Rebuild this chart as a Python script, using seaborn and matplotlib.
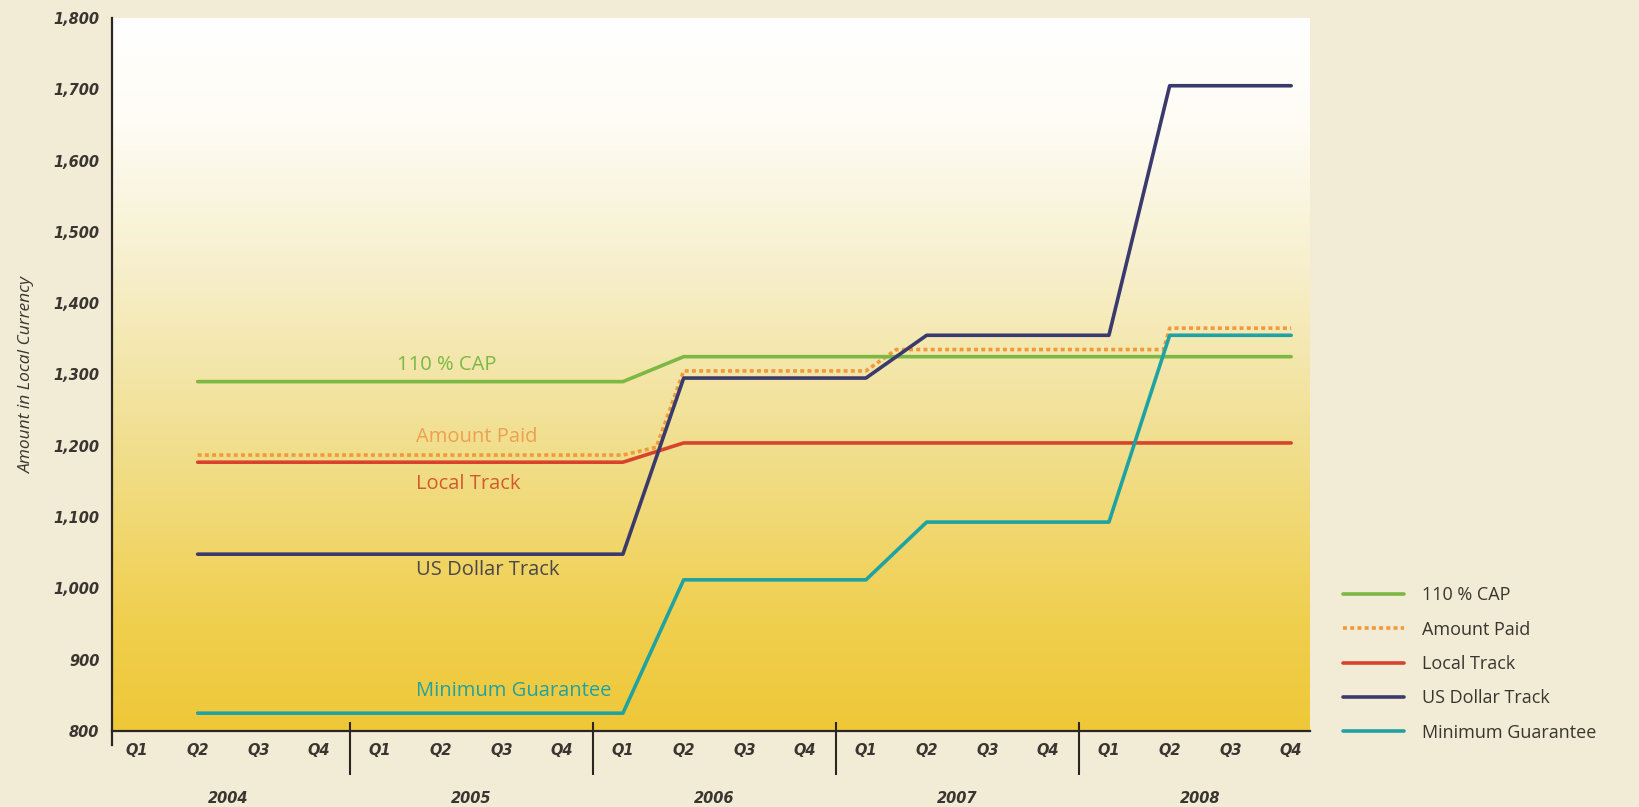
import numpy as np
import pandas as pd
import matplotlib
matplotlib.use("Agg")
import matplotlib.pyplot as plt
import matplotlib.transforms as mtransforms
from matplotlib.colors import LinearSegmentedColormap
import seaborn as sns

# data (x = quarter index, 0 = Q1 2004)
quarters = ["Q1", "Q2", "Q3", "Q4"] * 5
years = ["2004", "2005", "2006", "2007", "2008"]

q_x = list(range(1, 20))
cap = [1290] * 8 + [1325] * 11
local_track = [1177] * 8 + [1204] * 11
usd_track = [1048] * 8 + [1295] * 4 + [1355] * 4 + [1705] * 3
min_guarantee = [825] * 8 + [1012] * 4 + [1093] * 4 + [1355] * 3

# amount paid follows the highest track, kinks where the lines cross
paid_x = [1, 2, 3, 4, 5, 6, 7, 8, 8.55, 9, 10, 11, 12, 12.5, 13, 14, 15, 16, 16.9, 17, 18, 19]
paid = [1187] * 8 + [1198] + [1305] * 4 + [1335] * 6 + [1365] * 3

yticks = list(range(800, 1900, 100))

colors = {
    "110 % CAP": "#7cb844",
    "Amount Paid": "#f09a3c",
    "Local Track": "#d8432b",
    "US Dollar Track": "#3b3a6c",
    "Minimum Guarantee": "#1fa3a2",
}
label_colors = {
    "110 % CAP": "#7cb844",
    "Amount Paid": "#eea050",
    "Local Track": "#d35a30",
    "US Dollar Track": "#4a4848",
    "Minimum Guarantee": "#1fa3a2",
}

sns.set_style("white")
plt.rcParams["font.family"] = ["Open Sans", "DejaVu Sans"]

W, H = 1639, 807
fig = plt.figure(figsize=(W / 100, H / 100), dpi=100)
fig.patch.set_facecolor("#f2ebd5")

ax = fig.add_axes([112 / W, 1 - 731 / H, (1310 - 112) / W, (731 - 18) / H])
ax.set_facecolor("none")

# white -> yellow backdrop of the plot panel
grad = LinearSegmentedColormap.from_list(
    "panel", [(0, "#efc838"), (0.15, "#f0cf4e"), (0.4, "#f1df8e"),
              (0.65, "#f7efcc"), (0.85, "#fefcf4"), (1, "#ffffff")])
ax.imshow(np.linspace(0, 1, 256).reshape(-1, 1), cmap=grad, origin="lower",
          aspect="auto", extent=[0, 1, 0, 1], transform=ax.transAxes, zorder=0)

lw = 2.6
sns.lineplot(x=paid_x, y=paid, ax=ax, color=colors["Amount Paid"], lw=lw,
             dashes=False, linestyle=(0, (1.1, 0.9)), label="Amount Paid", zorder=2)
sns.lineplot(x=q_x, y=cap, ax=ax, color=colors["110 % CAP"], lw=lw, label="110 % CAP", zorder=3)
sns.lineplot(x=q_x, y=local_track, ax=ax, color=colors["Local Track"], lw=lw, label="Local Track", zorder=3)
sns.lineplot(x=q_x, y=usd_track, ax=ax, color=colors["US Dollar Track"], lw=lw, label="US Dollar Track", zorder=3)
sns.lineplot(x=q_x, y=min_guarantee, ax=ax, color=colors["Minimum Guarantee"], lw=lw,
             label="Minimum Guarantee", zorder=3)

ax.set_xlim(-0.41, 19.31)
ax.set_ylim(800, 1800)

# in-plot series labels
inline = [("110 % CAP", 4.28, 1313), ("Amount Paid", 4.6, 1212), ("Local Track", 4.6, 1146),
          ("US Dollar Track", 4.6, 1026), ("Minimum Guarantee", 4.6, 856)]
for name, tx, ty in inline:
    ax.text(tx, ty, name, color=label_colors[name], fontsize=14.5, va="center", ha="left", zorder=4)

# axes styling
for s in ["top", "right"]:
    ax.spines[s].set_visible(False)
ax.spines["left"].set_color("#2b2622")
ax.spines["bottom"].set_color("#2b2622")
ax.spines["left"].set_linewidth(1.6)
ax.spines["bottom"].set_linewidth(1.6)
ax.spines["left"].set_bounds(780, 1800)

ax.set_yticks(yticks)
ax.set_yticklabels([f"{v:,}" for v in yticks])
ax.set_xticks(range(len(quarters)))
ax.set_xticklabels(quarters)
ax.tick_params(axis="y", direction="out", length=5, width=1.5, color="#2b2622", pad=4)
ax.tick_params(axis="x", direction="inout", length=11, width=1.5, color="#2b2622", pad=3)
for lab in ax.get_xticklabels() + ax.get_yticklabels():
    lab.set_family("DejaVu Sans")
    lab.set_fontstyle("italic")
    lab.set_fontweight("bold")
    lab.set_fontsize(10.5)
    lab.set_color("#3a3530")

ax.set_ylabel("Amount in Local Currency", fontsize=12.5, fontstyle="italic",
              color="#3a3530", labelpad=13)
ax.set_xlabel("")

# year separators and year names
trans = mtransforms.blended_transform_factory(ax.transData, ax.transAxes)
seps = [4 * i - 0.5 for i in range(1, len(years))]
ax.vlines(seps, -0.062, 0.013, transform=trans, color="#2b2622", lw=1.5, clip_on=False)
for i, yr in enumerate(years):
    ax.text(4 * i + 1.5, -0.095, yr, transform=trans, ha="center", va="center",
            family="DejaVu Sans", fontsize=10.5, fontstyle="italic", fontweight="bold",
            color="#3a3530")

# legend outside the panel on the right
order = ["110 % CAP", "Amount Paid", "Local Track", "US Dollar Track", "Minimum Guarantee"]
handles, labels = ax.get_legend_handles_labels()
hmap = dict(zip(labels, handles))
leg = fig.legend([hmap[k] for k in order], order, loc="center left",
                 bbox_to_anchor=(1343 / W, 1 - 664 / H), frameon=False, fontsize=13,
                 handlelength=3.4, handletextpad=1.0, labelspacing=0.9,
                 borderpad=0, borderaxespad=0)
for t in leg.get_texts():
    t.set_color("#3a3530")
ax.get_legend().remove()

fig.savefig("out.png", dpi=100, facecolor=fig.get_facecolor())
